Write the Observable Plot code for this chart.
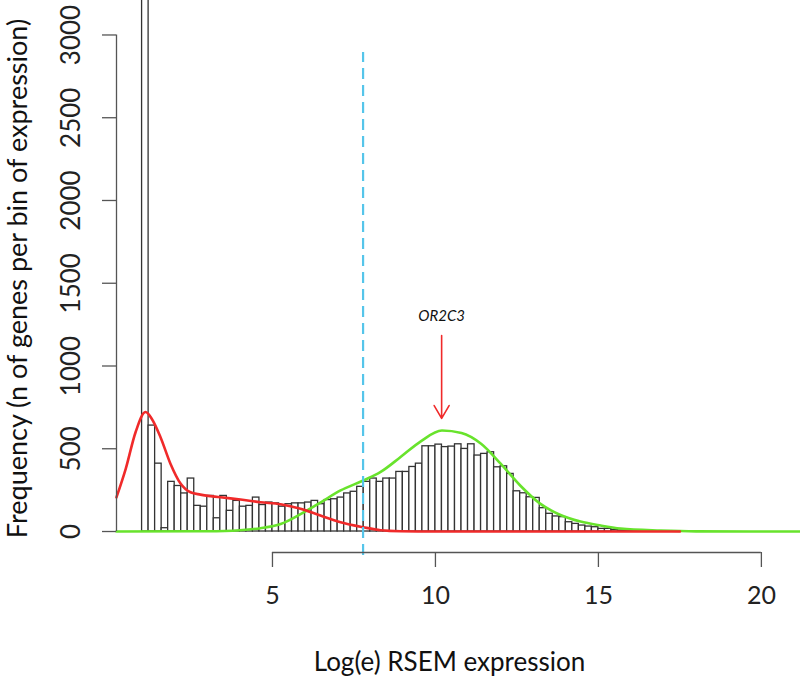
<!DOCTYPE html>
<html>
<head>
<meta charset="utf-8">
<script src="https://cdn.jsdelivr.net/npm/d3@7"></script>
<script src="https://cdn.jsdelivr.net/npm/@observablehq/plot@0.6"></script>
<style>
  html, body { margin: 0; padding: 0; background: #fff; }
  #chart svg { display: block; }
</style>
</head>
<body>
<div id="chart"></div>
<script>
// Histogram: bins of width 0.2 starting at log(e) = 1.0
const binStart = 1.0;
const binWidth = 0.2;
const binCounts = [
  3600, 640, 410, 20, 300, 275, 230, 320, 155, 150,
  215, 80, 215, 125, 185, 150, 155, 205, 160, 175,
  170, 150, 165, 170, 170, 175, 185, 165, 190, 195,
  205, 230, 240, 270, 300, 320, 300, 320, 320, 360,
  360, 390, 410, 515, 515, 525, 510, 513, 527, 499,
  527, 459, 469, 479, 388, 394, 348, 243, 231, 207,
  203, 141, 107, 91, 87, 56, 46, 36, 30, 26,
  16, 16, 10, 6, 4, 3, 2, 1
];

// Red fitted component (low expression)
const redX = [0.215, 0.5, 0.8, 1.105, 1.3, 1.565, 1.87, 2.18, 2.485, 2.79, 3.405, 4.02, 4.63, 5.25, 5.86, 6.47, 7.09, 7.785, 8.32, 8.93, 10, 17.5];
const redY = [207, 380, 600, 722, 680, 570, 410, 290, 237, 223, 207, 193, 177, 165, 138, 97, 56, 26, 8, 2, 0, 0];

// Green fitted component (expressed genes)
const greenX = [0.215, 3.0, 4.0, 4.63, 5.25, 5.86, 6.47, 7.09, 7.785, 8.32, 8.93, 9.55, 10.2, 10.8, 11.4, 12.0, 12.6, 13.2, 13.8, 14.45, 15.07, 15.68, 16.9, 18.0, 21.2];
const greenY = [0, 2, 8, 20, 45, 105, 175, 248, 308, 360, 450, 545, 610, 595, 530, 410, 278, 170, 103, 60, 36, 18, 6, 1, 0];

// Threshold and annotation
const cutoff = [7.78];
const geneName = ["OR2C3"];
const geneX = [10.19];
const arrowFrom = [1184];
const arrowTo = [683];
const geneLabelY = [1299];

const xTicks = [5, 10, 15, 20];
const yTicks = [0, 500, 1000, 1500, 2000, 2500, 3000];
const xTitle = "Log(e) RSEM expression";
const yTitle = "Frequency (n of genes per bin of expression)";

const bins = binCounts.map((c, i) => ({x1: binStart + i * binWidth, x2: binStart + (i + 1) * binWidth, count: c}));
const red = redX.map((x, i) => ({x, y: redY[i]}));
const green = greenX.map((x, i) => ({x, y: greenY[i]}));

const xDomain = [0.215, 21.2];
const yDomain = [-126.8, 3208.3];
const axisColor = "#555";
const fontFamily = "Lato, 'DejaVu Sans', sans-serif";

const chart = Plot.plot({
  width: 800,
  height: 678,
  marginLeft: 116,
  marginRight: 0,
  marginTop: 0,
  marginBottom: 126,
  x: {domain: xDomain},
  y: {domain: yDomain},
  style: {fontFamily, background: "#fff", color: "#222", overflow: "visible"},
  marks: [
    Plot.rect(bins, {x1: "x1", x2: "x2", y1: 0, y2: "count", fill: "#fff", stroke: "#333", strokeWidth: 1.3, clip: true}),
    Plot.line(green, {x: "x", y: "y", stroke: "#68e32c", strokeWidth: 2.6, curve: "monotone-x"}),
    Plot.line(red, {x: "x", y: "y", stroke: "#f02a2a", strokeWidth: 2.6, curve: "monotone-x"}),
    Plot.ruleX(cutoff, {y1: -145, y2: 2894, stroke: "#55c5ea", strokeWidth: 2.2, strokeDasharray: "11,6"}),
    Plot.arrow(geneX, {x1: d => d, x2: d => d, y1: () => arrowFrom[0], y2: () => arrowTo[0], stroke: "#f02a2a", strokeWidth: 1.6, headLength: 14, headAngle: 60}),
    Plot.text(geneName, {x: () => geneX[0], y: () => geneLabelY[0], text: d => d, fontSize: 15, fontStyle: "italic", fill: "#111"}),
    // x axis (R-style, offset below the data)
    Plot.ruleY([yDomain[0]], {x1: xTicks[0], x2: xTicks[xTicks.length - 1], stroke: axisColor, strokeWidth: 1.3}),
    Plot.axisX({ticks: xTicks, tickSize: 15, tickPadding: 19, fontSize: 25, stroke: axisColor, strokeWidth: 1.3, label: null, tickFormat: d => String(d)}),
    // y axis
    Plot.ruleX([xDomain[0]], {y1: 0, y2: 3000, stroke: axisColor, strokeWidth: 1.3}),
    Plot.axisY({ticks: yTicks, tickSize: 14, tickPadding: 23, tickRotate: -90, fontSize: 26, stroke: axisColor, strokeWidth: 1.3, label: null, tickFormat: d => String(d)}),
    Plot.text([xTitle], {frameAnchor: "bottom", dx: -9, dy: 110, fontSize: 26, fill: "#111", lineAnchor: "middle", textAnchor: "middle"}),
    Plot.text([yTitle], {frameAnchor: "left", dx: -98, dy: 2, rotate: -90, fontSize: 27, fill: "#111", lineAnchor: "middle", textAnchor: "middle"})
  ]
});

document.getElementById("chart").appendChild(chart);
</script>
</body>
</html>
